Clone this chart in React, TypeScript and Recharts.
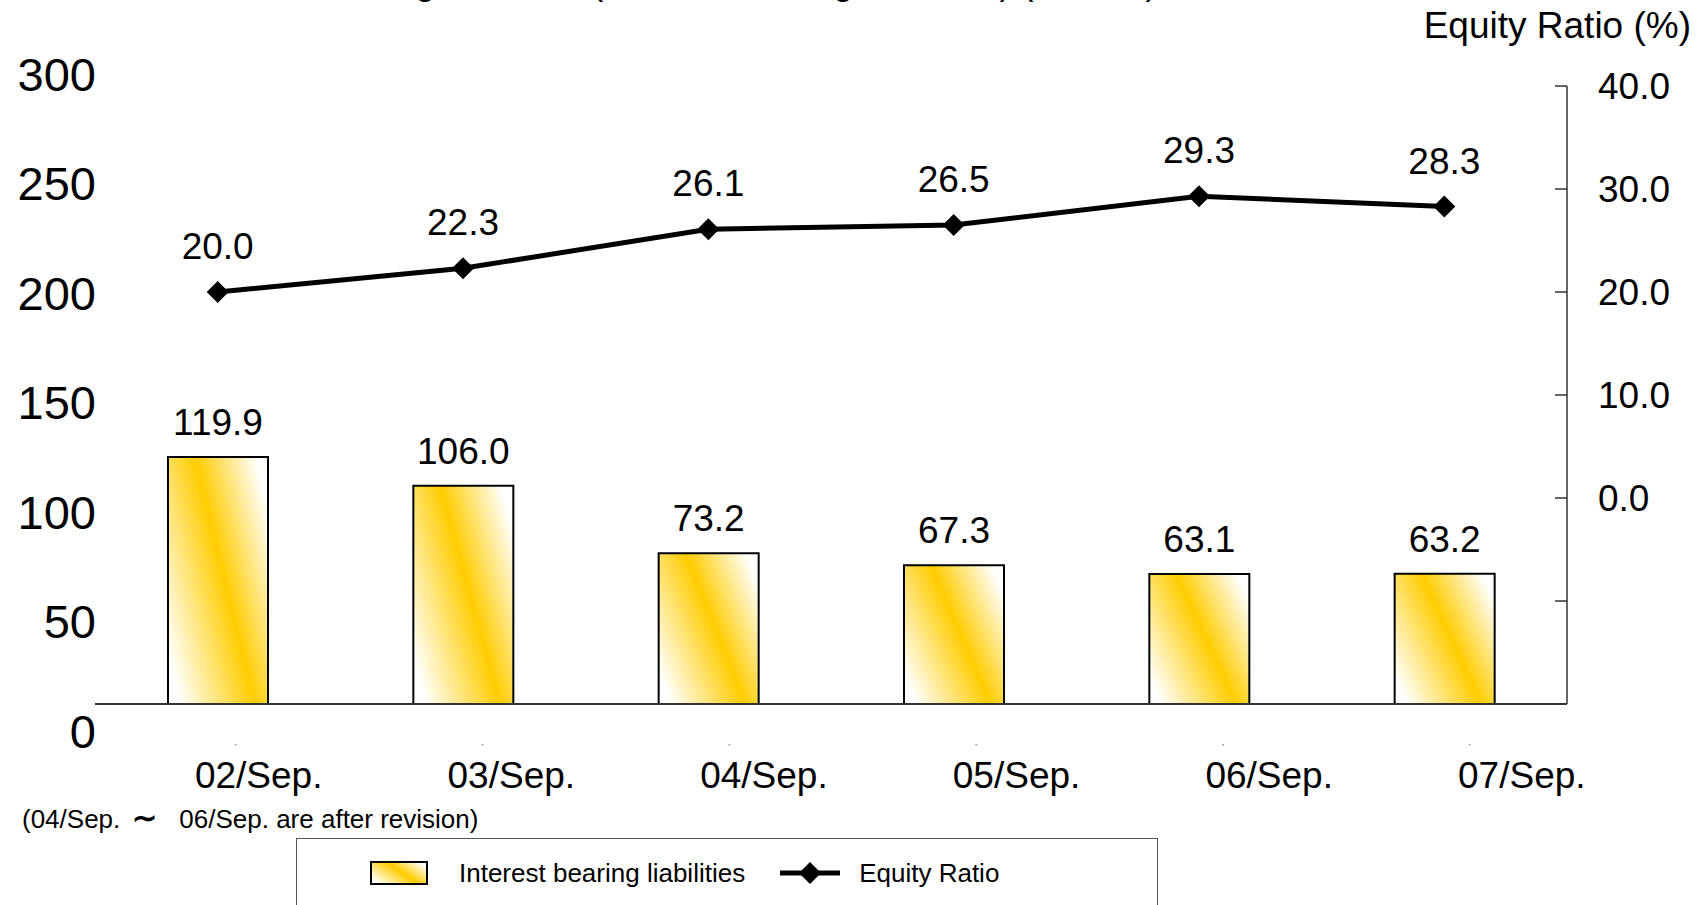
import React from 'react'
import { ComposedChart, Bar, Line, XAxis, YAxis, LabelList, Legend } from 'recharts'

const periods = ['02/Sep.', '03/Sep.', '04/Sep.', '05/Sep.', '06/Sep.', '07/Sep.']
const liabilities = [119.9, 106.0, 73.2, 67.3, 63.1, 63.2]
const equityRatio = [20.0, 22.3, 26.1, 26.5, 29.3, 28.3]
const leftTicks = [0, 50, 100, 150, 200, 250, 300]
const rightTicks = [-20, -10, 0, 10, 20, 30, 40]
const boundaryTicks = [1, 2, 3, 4, 5]

const data = periods.map((period, i) => ({
  period,
  liabilities: liabilities[i],
  equity: equityRatio[i],
}))

const FONT = '"Liberation Sans", Arial, Helvetica, sans-serif'
const GOLD = '#FFCC00'
const AXIS = '#333'
const PLOT_TOP = 86
const PLOT_BOTTOM = 704

// left labels in the original sit a bit off the real scale, spread them the same way
function LeftTick({ x, y, payload }: any) {
  const labelY = 74 + ((y - PLOT_TOP) * 657) / (PLOT_BOTTOM - PLOT_TOP)
  return (
    <text x={x + 1} y={labelY} textAnchor="end" dominantBaseline="central" fontSize={47} fontFamily={FONT} fill="#000">
      {payload.value}
    </text>
  )
}

function RightTick({ x, y, payload }: any) {
  return (
    <g>
      <line x1={x - 12} x2={x} y1={y} y2={y} stroke={AXIS} strokeWidth={1.5} />
      {payload.value >= 0 && (
        <text x={x + 31} y={y} dominantBaseline="central" fontSize={37} fontFamily={FONT} fill="#000">
          {payload.value.toFixed(1)}
        </text>
      )}
    </g>
  )
}

function PeriodTick({ x, y, payload, index }: any) {
  return (
    <g>
      <rect x={x + 17 + index * 1.5} y={y + 40} width={2} height={1.5} fill="#aaa" />
      <text x={x + 41 + index * 7.3} y={y + 71} textAnchor="middle" dominantBaseline="central" fontSize={37} fontFamily={FONT} fill="#000">
        {payload.value}
      </text>
    </g>
  )
}

function Diamond(props: any) {
  const { cx, cy, index } = props
  const r = 11
  return <polygon key={`d-${index}`} points={`${cx},${cy - r} ${cx + r},${cy} ${cx},${cy + r} ${cx - r},${cy}`} fill="#000" />
}

function LegendBox() {
  return (
    <div
      style={{
        boxSizing: 'border-box',
        height: 90,
        border: '1.5px solid #555',
        display: 'flex',
        alignItems: 'center',
        paddingLeft: 73,
        paddingBottom: 20,
        fontFamily: FONT,
        fontSize: 26,
        color: '#000',
      }}
    >
      <svg width={58} height={24} style={{ marginRight: 31 }}>
        <defs>
          <linearGradient id="legendGrad" x1="0" y1="0.8" x2="1" y2="0.2">
            <stop offset="0" stopColor="#fff" />
            <stop offset="0.55" stopColor={GOLD} />
            <stop offset="1" stopColor="#fff" />
          </linearGradient>
        </defs>
        <rect x={1} y={1} width={56} height={22} fill="url(#legendGrad)" stroke="#000" strokeWidth={2} />
      </svg>
      <span style={{ marginRight: 35 }}>Interest bearing liabilities</span>
      <svg width={60} height={24} style={{ marginRight: 19 }}>
        <line x1={0} x2={60} y1={12} y2={12} stroke="#000" strokeWidth={5} />
        <polygon points="30,1 41,12 30,23 19,12" fill="#000" />
      </svg>
      <span>Equity Ratio</span>
    </div>
  )
}

export default function App() {
  return (
    <div style={{ position: 'absolute', left: 0, top: 0, width: 1700, height: 905, overflow: 'hidden', background: '#fff', fontFamily: FONT }}>
      <div style={{ position: 'absolute', left: 185, top: -37, fontSize: 36, lineHeight: '37px', whiteSpace: 'nowrap' }}>
        Interest bearing liabilities (Interest bearing liabilities) (¥billion)
      </div>
      <div style={{ position: 'absolute', right: 9, top: 6, fontSize: 37, lineHeight: '40px', whiteSpace: 'nowrap' }}>
        Equity Ratio (%)
      </div>
      <div style={{ position: 'absolute', left: 22, top: 805, fontSize: 26, lineHeight: '26px', whiteSpace: 'nowrap' }}>
        <span>(04/Sep.</span>
        <span style={{ marginLeft: 12, fontWeight: 'bold', fontSize: 30 }}>∼</span>
        <span style={{ marginLeft: 22 }}>06/Sep. are after revision)</span>
      </div>
      <ComposedChart width={1700} height={905} data={data} margin={{ top: PLOT_TOP, right: 0, bottom: 0, left: 0 }}>
        <defs>
          <linearGradient id="barGrad" x1="0" y1="0.8" x2="1" y2="0.2">
            <stop offset="0" stopColor="#fff" />
            <stop offset="0.55" stopColor={GOLD} />
            <stop offset="1" stopColor="#fff" />
          </linearGradient>
        </defs>
        <XAxis
          xAxisId="grid"
          type="number"
          domain={[0, 6]}
          allowDataOverflow
          ticks={boundaryTicks}
          mirror
          height={1}
          tick={false}
          tickSize={12}
          axisLine={{ stroke: AXIS, strokeWidth: 2 }}
          tickLine={{ stroke: AXIS, strokeWidth: 1.5 }}
        />
        <XAxis
          xAxisId="cat"
          dataKey="period"
          height={905 - PLOT_BOTTOM}
          axisLine={false}
          tickLine={false}
          tickSize={0}
          tickMargin={0}
          interval={0}
          tick={<PeriodTick />}
        />
        <YAxis
          yAxisId="left"
          domain={[0, 300]}
          ticks={leftTicks}
          width={95}
          axisLine={false}
          tickLine={false}
          tickSize={0}
          tickMargin={0}
          interval={0}
          tick={<LeftTick />}
        />
        <YAxis
          yAxisId="right"
          orientation="right"
          domain={[-20, 40]}
          ticks={rightTicks}
          width={133}
          axisLine={{ stroke: AXIS, strokeWidth: 1.5 }}
          tickLine={false}
          tickSize={0}
          tickMargin={0}
          interval={0}
          tick={<RightTick />}
        />
        <Legend
          layout="horizontal"
          verticalAlign="middle"
          align="center"
          wrapperStyle={{ left: 296, top: 838, width: 862, height: 90 }}
          content={() => <LegendBox />}
        />
        <Bar
          xAxisId="cat"
          yAxisId="left"
          dataKey="liabilities"
          name="Interest bearing liabilities"
          barSize={100}
          fill="url(#barGrad)"
          stroke="#000"
          strokeWidth={2}
          isAnimationActive={false}
        >
          <LabelList
            dataKey="liabilities"
            position="top"
            offset={22}
            formatter={(v: any) => Number(v).toFixed(1)}
            fontSize={37}
            fontFamily={FONT}
            fill="#000"
          />
        </Bar>
        <Line
          xAxisId="cat"
          yAxisId="right"
          dataKey="equity"
          name="Equity Ratio"
          stroke="#000"
          strokeWidth={5}
          dot={Diamond}
          activeDot={false}
          isAnimationActive={false}
        >
          <LabelList
            dataKey="equity"
            position="top"
            offset={33}
            formatter={(v: any) => Number(v).toFixed(1)}
            fontSize={37}
            fontFamily={FONT}
            fill="#000"
          />
        </Line>
      </ComposedChart>
    </div>
  )
}
